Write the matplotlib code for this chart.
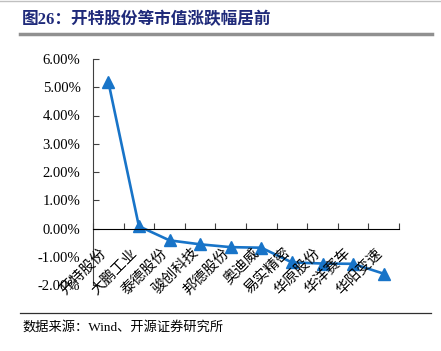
import numpy as np
import matplotlib
matplotlib.use('Agg')
import matplotlib.pyplot as plt
import matplotlib.transforms as mtransforms
from matplotlib.ticker import FuncFormatter, FixedLocator

plt.rcParams['font.family'] = ['Liberation Serif', 'Noto Sans CJK SC']

names = ['开特股份', '大鹏工业', '泰德股份', '骏创科技', '邦德股份',
         '奥迪威', '易实精密', '华原股份', '华洋赛车', '华阳变速']
changes = [0.0520, 0.0008, -0.0042, -0.0056, -0.0066,
           -0.0068, -0.0120, -0.0124, -0.0125, -0.0160]
title = '图26：开特股份等市值涨跌幅居前'
source = '数据来源：Wind、开源证券研究所'

fig = plt.figure(figsize=(4.41, 3.51), dpi=100)
ax = fig.add_axes([93/441, 1-285/351, (399-93)/441, (285-59)/351])

x = np.arange(len(names))
ax.plot(x, changes, color='#1874C8', lw=1.9, marker='^', markersize=9,
        markeredgecolor='#1874C8', markerfacecolor='#1874C8')

ax.set_xlim(-0.5, len(names)-0.5)
ax.set_ylim(-0.02, 0.06)
ax.set_yticks(np.arange(-0.02, 0.0601, 0.01))
ax.yaxis.set_major_formatter(FuncFormatter(lambda v, p: '%.2f%%' % (v*100)))
ax.tick_params(axis='y', direction='in', length=4, labelsize=10.5, pad=9,
               color='#404040')

ax.spines['top'].set_visible(False)
ax.spines['right'].set_visible(False)
ax.spines['left'].set_color('#404040')
ax.spines['bottom'].set_position(('data', 0))
ax.spines['bottom'].set_color('black')
ax.xaxis.set_major_locator(FixedLocator(np.arange(-0.5, len(names), 1.0)))
ax.tick_params(axis='x', direction='in', length=4, labelbottom=False, color='#404040')

off = mtransforms.offset_copy(ax.transData, fig=fig, x=-4, y=-22, units='dots')
for i, n in enumerate(names):
    ax.text(i, 0, n, transform=off, rotation=45, rotation_mode='anchor',
            ha='right', va='center', fontsize=10.5, family=['Noto Sans CJK SC'])

fig.text(22/441, 1-20/351, title, fontsize=12, fontweight='bold', color='#1F2A7A',
         va='center', ha='left', family=['Liberation Serif', 'Noto Sans CJK SC'])
fig.add_artist(plt.Line2D([20/441, 432/441], [1-34/351, 1-34/351], color='#909090', lw=2.5))
fig.add_artist(plt.Line2D([0, 1], [1-1/351, 1-1/351], color='#c0c0c0', lw=1))
fig.add_artist(plt.Line2D([20/441, 431/441], [1-313/351, 1-313/351], color='#303030', lw=0.9))
fig.text(22/441, 1-327/351, source, fontsize=9.5, va='center', ha='left',
         family=['Liberation Serif', 'Noto Sans CJK SC'])

fig.savefig('out.png', dpi=100)
